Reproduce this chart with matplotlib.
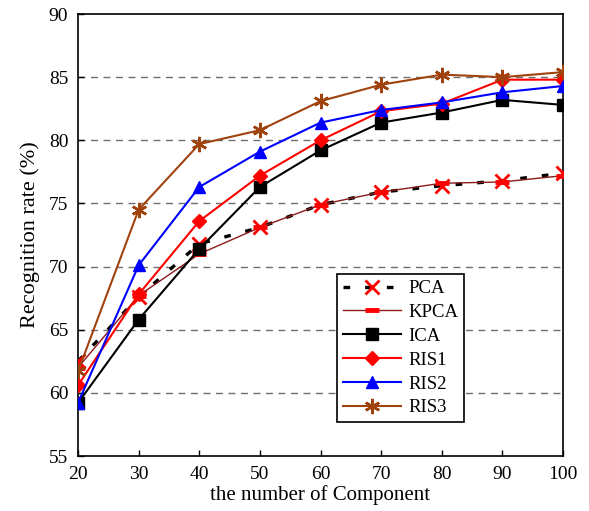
import matplotlib
matplotlib.use("Agg")
import matplotlib.pyplot as plt

# -----------------------------
# Data
# -----------------------------
components = [20, 30, 40, 50, 60, 70, 80, 90, 100]

pca = [62.5, 67.6, 71.8, 73.1, 74.9, 75.9, 76.4, 76.8, 77.4]
kpca = [62.0, 67.7, 71.0, 73.1, 74.9, 75.9, 76.6, 76.7, 77.2]
ica = [59.2, 65.8, 71.4, 76.3, 79.2, 81.4, 82.2, 83.2, 82.8]
ris1 = [60.6, 67.8, 73.6, 77.2, 80.0, 82.3, 82.9, 84.8, 84.8]
ris2 = [59.2, 70.1, 76.3, 79.1, 81.4, 82.4, 83.0, 83.8, 84.3]
ris3 = [61.7, 74.5, 79.7, 80.8, 83.1, 84.4, 85.2, 85.0, 85.4]

y_ticks = [55, 60, 65, 70, 75, 80, 85, 90]

plt.rcParams["font.family"] = ["Liberation Serif", "DejaVu Serif"]

fig = plt.figure(figsize=(5.89, 5.11), dpi=100)
ax = fig.add_axes([0.1324, 0.1076, 0.8235, 0.865])

# horizontal dashed grid
for yv in y_ticks[1:-1]:
    ax.axhline(yv, color="#6e6e6e", linestyle=(0, (5, 4)), linewidth=1.0, zorder=0)

brown = "#A0420E"

ax.plot(components, pca, color="black", linestyle=(0, (2, 4.5)), linewidth=2.4,
        marker="x", markersize=10, markeredgewidth=2, markeredgecolor="red",
        markerfacecolor="red", label="PCA", zorder=3)
ax.plot(components, kpca, color="#8B1A1A", linewidth=1.0,
        marker="_", markersize=10, markeredgewidth=3.5, markeredgecolor="red",
        label="KPCA", zorder=3)
ax.plot(components, ica, color="black", linewidth=1.5,
        marker="s", markersize=9, markerfacecolor="black", markeredgecolor="black",
        label="ICA", zorder=4)
ax.plot(components, ris1, color="red", linewidth=1.5,
        marker="D", markersize=7, markerfacecolor="red", markeredgecolor="red",
        label="RIS1", zorder=5)
ax.plot(components, ris2, color="blue", linewidth=1.5,
        marker="^", markersize=9, markerfacecolor="blue", markeredgecolor="blue",
        label="RIS2", zorder=5)
ax.plot(components, ris3, color=brown, linewidth=1.5,
        marker=(6, 2, 0), markersize=11, markeredgewidth=1.8, markeredgecolor=brown,
        label="RIS3", zorder=6)

ax.set_xlim(20, 100)
ax.set_ylim(55, 90)
ax.set_xticks(components)
ax.set_yticks(y_ticks)
ax.tick_params(direction="in", labelsize=14, length=4, width=1, pad=7,
               top=False, right=False)
for sp in ax.spines.values():
    sp.set_linewidth(1.2)

ax.set_xlabel("the number of Component", fontsize=15, labelpad=2)
ax.set_ylabel("Recognition rate (%)", fontsize=16, labelpad=6)

leg = ax.legend(loc="upper left", bbox_to_anchor=(0.535, 0.411), fontsize=13.5,
                frameon=True, fancybox=False, edgecolor="black", framealpha=1,
                handlelength=3.1, labelspacing=0.36, borderaxespad=0,
                borderpad=0.3, handletextpad=0.4)
leg.get_frame().set_linewidth(1.2)

fig.savefig("out.png", dpi=100)
